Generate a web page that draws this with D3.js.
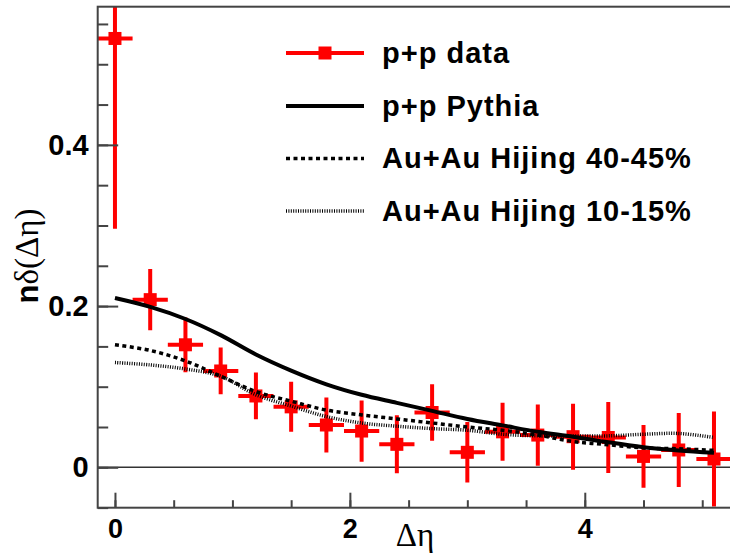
<!DOCTYPE html>
<html>
<head>
<meta charset="utf-8">
<script src="https://cdn.jsdelivr.net/npm/d3@7"></script>
<style>
  html, body { margin: 0; padding: 0; background: #fff; }
  svg { display: block; }
</style>
</head>
<body>
<svg id="chart" width="730" height="556"></svg>
<script>
// p+p data points: Δη bin centres, nδ values and vertical errors
const dataX   = [0, 0.3, 0.6, 0.9, 1.2, 1.5, 1.8, 2.1, 2.4, 2.7, 3.0, 3.3, 3.6, 3.9, 4.2, 4.5, 4.8, 5.1];
const dataY   = [0.532, 0.208, 0.152, 0.1195, 0.0885, 0.075, 0.0525, 0.045, 0.0285, 0.068, 0.0186, 0.044, 0.040, 0.038, 0.037, 0.0135, 0.0215, 0.0103];
const dataErr = [0.236, 0.038, 0.034, 0.029, 0.029, 0.031, 0.034, 0.038, 0.036, 0.035, 0.0375, 0.036, 0.038, 0.041, 0.044, 0.039, 0.046, 0.059];
const dataXErr = 0.15;

// model curves sampled on a common Δη grid
const curveX        = [0, 0.3, 0.6, 0.9, 1.2, 1.5, 1.8, 2.1, 2.4, 2.7, 3.0, 3.3, 3.6, 3.9, 4.2, 4.5, 4.8, 5.1];
const pythiaPP      = [0.210, 0.199, 0.184, 0.164, 0.140, 0.120, 0.103, 0.090, 0.080, 0.070, 0.060, 0.052, 0.044, 0.038, 0.031, 0.025, 0.021, 0.018];
const hijing4045    = [0.152, 0.145, 0.132, 0.113, 0.094, 0.082, 0.071, 0.065, 0.060, 0.055, 0.050, 0.046, 0.040, 0.032, 0.028, 0.024, 0.023, 0.021];
const hijing1015    = [0.130, 0.127, 0.122, 0.113, 0.090, 0.076, 0.063, 0.055, 0.051, 0.048, 0.046, 0.041, 0.039, 0.039, 0.039, 0.041, 0.042, 0.037];

// axis ticks
const xMajorTicks = [0, 2, 4];
const xMinorTicks = [0, 0.5, 1, 1.5, 2, 2.5, 3, 3.5, 4, 4.5, 5];
const yMajorTicks = [0, 0.2, 0.4];
const yMinorTicks = [-0.05, 0, 0.05, 0.1, 0.15, 0.2, 0.25, 0.3, 0.35, 0.4, 0.45, 0.5, 0.55];

const legendLabels = ["p+p data", "p+p Pythia", "Au+Au Hijing 40-45%", "Au+Au Hijing 10-15%"];

const svg = d3.select("#chart");
const frame = { left: 97.7, right: 741, top: 6.7, bottom: 507.7 };

const x = d3.scaleLinear().domain([-0.147, 5.33]).range([frame.left, frame.right]);
const y = d3.scaleLinear().domain([-0.0501, 0.5714]).range([frame.bottom, frame.top]);

svg.append("defs").append("clipPath").attr("id", "plotClip")
  .append("rect")
  .attr("x", frame.left).attr("y", frame.top)
  .attr("width", frame.right - frame.left).attr("height", frame.bottom - frame.top);

const tickFont = "'Liberation Sans', Arial, Helvetica, sans-serif";
const frameColor = "#444";

// zero line
svg.append("line")
  .attr("x1", frame.left).attr("x2", frame.right)
  .attr("y1", y(0)).attr("y2", y(0))
  .attr("stroke", "#333").attr("stroke-width", 1.6);

// p+p data with error bars
const plot = svg.append("g").attr("clip-path", "url(#plotClip)");
const pts = dataX.map((d, i) => ({ x: d, y: dataY[i], e: dataErr[i] }));
const red = "#ff0000";

plot.selectAll("line.ey").data(pts).enter().append("line")
  .attr("class", "ey")
  .attr("x1", d => x(d.x)).attr("x2", d => x(d.x))
  .attr("y1", d => y(d.y - d.e)).attr("y2", d => y(d.y + d.e))
  .attr("stroke", red).attr("stroke-width", 4);

plot.selectAll("line.ex").data(pts).enter().append("line")
  .attr("class", "ex")
  .attr("x1", d => x(d.x - dataXErr)).attr("x2", d => x(d.x + dataXErr))
  .attr("y1", d => y(d.y)).attr("y2", d => y(d.y))
  .attr("stroke", red).attr("stroke-width", 4);

const ms = 13;
plot.selectAll("rect.mk").data(pts).enter().append("rect")
  .attr("class", "mk")
  .attr("x", d => x(d.x) - ms / 2).attr("y", d => y(d.y) - ms / 2)
  .attr("width", ms).attr("height", ms)
  .attr("fill", red);

// model curves
const line = d3.line().x(d => x(d[0])).y(d => y(d[1])).curve(d3.curveCatmullRom.alpha(0.5));
const styles = [
  { vals: pythiaPP,   width: 4,   dash: null },
  { vals: hijing4045, width: 3.5, dash: "4,3.5" },
  { vals: hijing1015, width: 3.5, dash: "1,1.4" }
];
styles.forEach(s => {
  plot.append("path")
    .datum(curveX.map((cx, i) => [cx, s.vals[i]]))
    .attr("d", line)
    .attr("fill", "none")
    .attr("stroke", "#000")
    .attr("stroke-width", s.width)
    .attr("stroke-dasharray", s.dash);
});

// frame
svg.append("rect")
  .attr("x", frame.left).attr("y", frame.top)
  .attr("width", frame.right - frame.left).attr("height", frame.bottom - frame.top)
  .attr("fill", "none").attr("stroke", frameColor).attr("stroke-width", 2);

// y axis: minor ticks, then major ticks with labels
const yMinor = svg.append("g").attr("transform", `translate(${frame.left},0)`)
  .call(d3.axisLeft(y).tickValues(yMinorTicks).tickSize(-10.5).tickFormat(""));
const yMajor = svg.append("g").attr("transform", `translate(${frame.left},0)`)
  .call(d3.axisLeft(y).tickValues(yMajorTicks).tickSize(-20.5).tickPadding(9)
    .tickFormat(d => d === 0 ? "0" : d3.format(".1f")(d)));

// x axis
const xMinor = svg.append("g").attr("transform", `translate(0,${frame.bottom})`)
  .call(d3.axisBottom(x).tickValues(xMinorTicks).tickSize(-7.5).tickFormat(""));
const xMajor = svg.append("g").attr("transform", `translate(0,${frame.bottom})`)
  .call(d3.axisBottom(x).tickValues(xMajorTicks).tickSize(-15).tickPadding(11)
    .tickFormat(d3.format("d")));

[yMinor, yMajor, xMinor, xMajor].forEach(g => {
  g.select(".domain").remove();
  g.selectAll(".tick line").attr("stroke", frameColor).attr("stroke-width", 2);
  g.selectAll(".tick text")
    .attr("fill", "#000")
    .attr("font-family", tickFont)
    .attr("font-weight", "bold");
});
yMajor.selectAll(".tick text").attr("font-size", 29);
xMajor.selectAll(".tick text").attr("font-size", 27);

// axis titles
svg.append("text")
  .attr("x", 415).attr("y", 546)
  .attr("text-anchor", "middle")
  .attr("font-family", "'Liberation Serif', 'Times New Roman', serif")
  .attr("font-size", 33)
  .text("Δη");

const yTitle = svg.append("text")
  .attr("transform", "translate(38,256) rotate(-90)")
  .attr("text-anchor", "middle");
yTitle.append("tspan")
  .attr("font-family", tickFont).attr("font-weight", "bold").attr("font-size", 31)
  .text("n");
yTitle.append("tspan")
  .attr("font-family", "'Liberation Serif', 'Times New Roman', serif").attr("font-size", 33)
  .text("δ(Δη)");

// legend
const legend = svg.append("g");
const legY = [53, 106, 158.5, 211];
const legX0 = 286, legX1 = 364, legTextX = 382;
legendLabels.forEach((lab, i) => {
  const g = legend.append("g");
  if (i === 0) {
    g.append("line").attr("x1", legX0).attr("x2", legX1).attr("y1", legY[i]).attr("y2", legY[i])
      .attr("stroke", red).attr("stroke-width", 4);
    g.append("rect").attr("x", (legX0 + legX1) / 2 - ms / 2).attr("y", legY[i] - ms / 2)
      .attr("width", ms).attr("height", ms).attr("fill", red);
  } else {
    const s = styles[i - 1];
    g.append("line").attr("x1", legX0).attr("x2", legX1).attr("y1", legY[i]).attr("y2", legY[i])
      .attr("stroke", "#000").attr("stroke-width", s.width).attr("stroke-dasharray", s.dash);
  }
  g.append("text")
    .attr("x", legTextX).attr("y", legY[i] + 9.5)
    .attr("font-family", tickFont).attr("font-weight", "bold").attr("font-size", 29)
    .attr("letter-spacing", 1)
    .attr("fill", "#000")
    .text(lab);
});
</script>
</body>
</html>
